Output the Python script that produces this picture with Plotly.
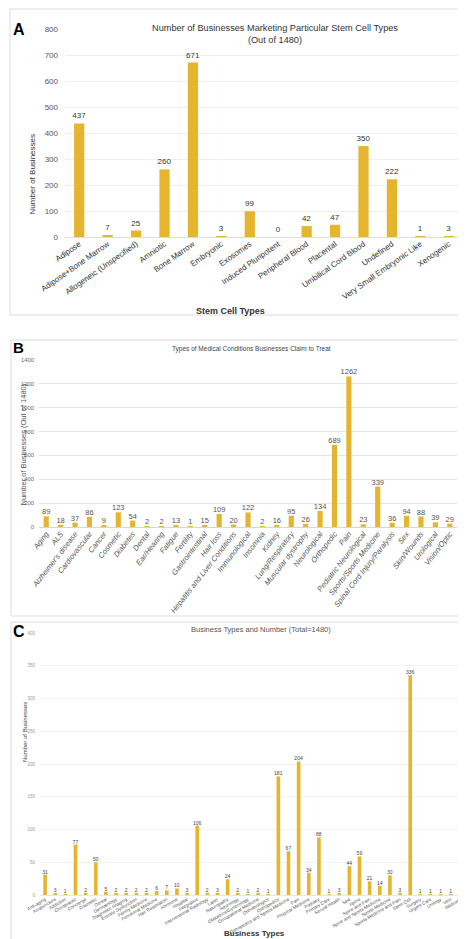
import plotly.graph_objects as go

W, H = 466, 939
GOLD = "#E6B52F"
ARIAL = "Liberation Sans, Arial, sans-serif"

# ---------- Panel A ----------
stem_types = ["Adipose", "Adipose+Bone Marrow", "Allogeneic (Unspecified)", "Amniotic",
              "Bone Marrow", "Embryonic", "Exosomes", "Induced Pluripotent",
              "Peripheral Blood", "Placental", "Umbilical Cord Blood", "Undefined",
              "Very Small Embryonic Like", "Xenogenic"]
stem_counts = [437, 7, 25, 260, 671, 3, 99, 0, 42, 47, 350, 222, 1, 3]

# ---------- Panel B ----------
conditions = ["Aging", "ALS", "Alzheimer's disease", "Cardiovascular", "Cancer", "Cosmetic",
              "Diabetes", "Dental", "Ear/Hearing", "Fatigue", "Fertility", "Gastrointestinal",
              "Hair loss", "Hepatitis and Liver Conditions", "Immunological", "Insomnia",
              "Kidney", "Lung/Respiratory", "Muscular dystrophy", "Neurological",
              "Orthopedic", "Pain", "Pediatric Neurological", "Sports/Sports Medicine",
              "Spinal Cord Injury/Paralysis", "Sex", "Skin/Wounds", "Urological", "Vision/Optic"]
condition_counts = [89, 18, 37, 86, 9, 123, 54, 2, 2, 13, 1, 15, 109, 20, 122, 2, 16, 95, 26,
                    134, 689, 1262, 23, 339, 36, 94, 88, 39, 29]

# ---------- Panel C ----------
business_types = ["Anti-aging", "Acupuncture", "Addiction", "Chiropractic", "Concierge",
                  "Cosmetic", "Dental", "Dermatology", "Diagnostic Imaging",
                  "Erectile Dysfunction", "Family Medicine", "Functional Medicine",
                  "Hair Restoration", "Hormone", "Hospital", "Integrative",
                  "Interventional Radiology", "Laser", "Naturopathy", "Neurology",
                  "Obstetrics/Gynecology", "Occupational Medicine", "Orthobiologics",
                  "Orthopedics", "Orthopedics and Sports Medicine", "Pain",
                  "Physical Medicine", "Podiatry", "Primary Care", "Sexual Health", "Spa",
                  "Spine", "Spine and Pain", "Spine and Sports Medicine", "Sports Medicine",
                  "Sports Medicine and Pain", "Stem Cell", "Surgery", "Urgent Care",
                  "Urology", "Vein", "Wellness"]
business_counts = [31, 3, 1, 77, 2, 50, 5, 2, 2, 2, 2, 6, 7, 10, 3, 106, 2, 3, 24, 2, 1, 2, 1,
                   181, 67, 204, 34, 88, 1, 3, 44, 59, 21, 14, 30, 3, 336, 1, 1, 1, 1, 51]


def fx(px):
    return px / W


def fy(px):
    return 1 - px / H


fig = go.Figure()

fig.add_trace(go.Bar(x=stem_types, y=stem_counts, marker_color=GOLD,
                     text=[str(v) for v in stem_counts], textposition="outside",
                     constraintext="none",
                     textfont=dict(size=8, color="#333", family=ARIAL),
                     cliponaxis=False, xaxis="x", yaxis="y", showlegend=False))
fig.add_trace(go.Bar(x=conditions, y=condition_counts, marker_color=GOLD,
                     text=[str(v) for v in condition_counts], textposition="outside",
                     constraintext="none",
                     textfont=dict(size=7.5, color="#555", family=ARIAL),
                     cliponaxis=False, xaxis="x2", yaxis="y2", showlegend=False))
fig.add_trace(go.Bar(x=business_types, y=business_counts, marker_color=GOLD,
                     text=[str(v) for v in business_counts], textposition="outside",
                     constraintext="none",
                     textfont=dict(size=5, color="#444", family=ARIAL),
                     cliponaxis=False, xaxis="x3", yaxis="y3", showlegend=False))

fig.update_layout(
    template="none",
    width=W, height=H,
    margin=dict(l=0, r=0, t=0, b=0, autoexpand=False),
    paper_bgcolor="white", plot_bgcolor="white",
    bargap=0.64,
    xaxis=dict(domain=[fx(57), fx(455)], anchor="y", type="category", automargin=False,
               tickmode="array", tickvals=stem_types, ticktext=stem_types,
               tickangle=-35, tickfont=dict(size=8, color="#333", family=ARIAL),
               showline=False, ticks="", showgrid=False, zeroline=False),
    yaxis=dict(domain=[fy(229), fy(21)], anchor="x", range=[0, 800], dtick=100,
               automargin=False, showline=False,
               tickfont=dict(size=8, color="#555", family=ARIAL), gridcolor="#eeeeee",
               zeroline=True, zerolinecolor="#dcdcdc", ticks="", ticklabelstandoff=6),
    xaxis2=dict(domain=[fx(31), fx(449)], anchor="y2", type="category", automargin=False,
                tickmode="array", tickvals=conditions, ticktext=conditions,
                tickangle=-52, tickfont=dict(size=7.6, color="#555", family=ARIAL, style="italic"),
                showline=False, ticks="", showgrid=False, zeroline=False),
    yaxis2=dict(domain=[fy(519), fy(352)], anchor="x2", range=[0, 1400], dtick=200,
                automargin=False, showline=False,
                tickfont=dict(size=5.8, color="#666", family=ARIAL), gridcolor="#e6e6e6",
                zeroline=True, zerolinecolor="#d6d6d6", ticks="", ticklabelstandoff=4),
    xaxis3=dict(domain=[fx(32), fx(458)], anchor="y3", type="category", automargin=False,
                tickmode="array", tickvals=business_types, ticktext=business_types,
                tickangle=-30, tickfont=dict(size=4.6, color="#555", family=ARIAL),
                showline=False, ticks="", showgrid=False, zeroline=False),
    yaxis3=dict(domain=[fy(887), fy(625)], anchor="x3", range=[0, 400], dtick=50,
                automargin=False, showline=False,
                tickfont=dict(size=4.5, color="#999", family=ARIAL), gridcolor="#f3f3f3",
                zeroline=True, zerolinecolor="#e6e6e6", ticks="", ticklabelstandoff=4),
)

# Panel boxes
box_line = dict(color="#dcdcdc", width=1)
for (x0, y0, x1, y1) in [(2, 1, 454, 307), (3, 332, 454, 608), (3, 614, 464, 937)]:
    fig.add_shape(type="rect", xref="paper", yref="paper",
                  x0=fx(x0), x1=fx(x1), y0=fy(y1), y1=fy(y0), line=box_line,
                  fillcolor="rgba(0,0,0,0)", layer="below")

annotations = [
    # panel letters
    dict(text="<b>A</b>", x=fx(3), y=fy(11), font=dict(size=16, color="black", family=ARIAL), xanchor="left"),
    dict(text="<b>B</b>", x=fx(3), y=fy(339), font=dict(size=15, color="black", family=ARIAL), xanchor="left"),
    dict(text="<b>C</b>", x=fx(3), y=fy(623), font=dict(size=16, color="black", family=ARIAL), xanchor="left"),
    # titles
    dict(text="Number of Businesses Marketing Particular Stem Cell Types<br>(Out of 1480)",
         x=fx(267), y=fy(13), font=dict(size=9.2, color="#333", family=ARIAL)),
    dict(text="Types of Medical Conditions Businesses Claim to Treat",
         x=fx(243), y=fy(341), font=dict(size=6.5, color="#444", family=ARIAL)),
    dict(text="Business Types and Number (Total=1480)",
         x=fx(253), y=fy(621), font=dict(size=7.5, color="#555", family=ARIAL)),
    # axis titles
    dict(text="<b>Stem Cell Types</b>", x=fx(222), y=fy(296), font=dict(size=9, color="#333", family=ARIAL)),
    dict(text="<b>Business Types</b>", x=fx(246), y=fy(932), font=dict(size=8, color="#333", family=ARIAL)),
    dict(text="Number of Businesses", x=fx(17), y=fy(125), textangle=-90,
         font=dict(size=8, color="#333", family=ARIAL)),
    dict(text="Number of Businesses (Out of 1480)", x=fx(8), y=fy(437), textangle=-90,
         font=dict(size=7.5, color="#555", family=ARIAL)),
    dict(text="Number of Businesses", x=fx(12), y=fy(756), textangle=-90,
         font=dict(size=6, color="#444", family=ARIAL)),
]
for a in annotations:
    a.setdefault("xref", "paper")
    a.setdefault("yref", "paper")
    a.setdefault("showarrow", False)
    fig.add_annotation(**a)

fig.write_html("out.html")
